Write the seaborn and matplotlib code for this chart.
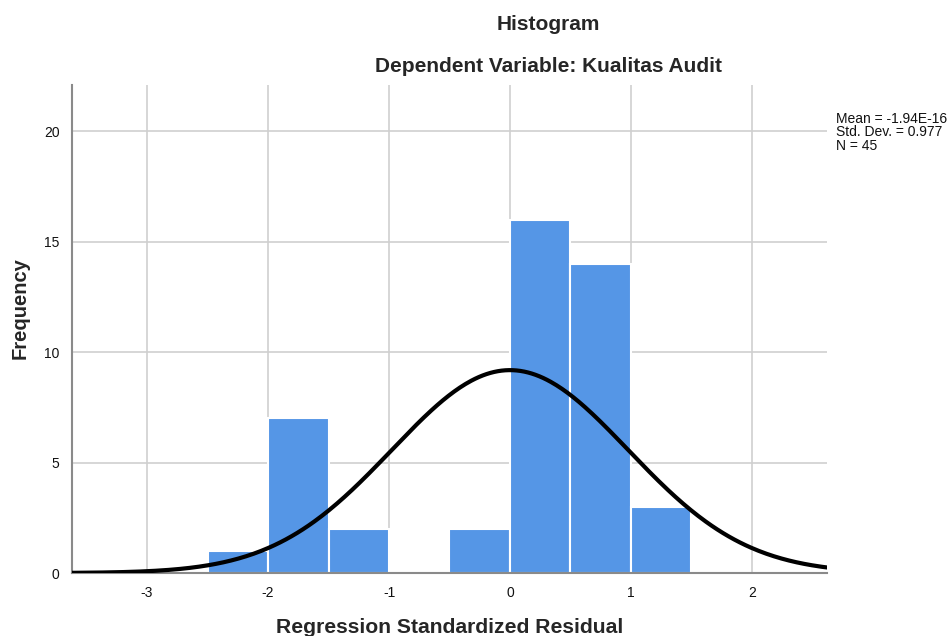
import numpy as np
import pandas as pd
import seaborn as sns
import matplotlib.pyplot as plt

bin_edges = [-2.5, -2.0, -1.5, -1.0, -0.5, 0.0, 0.5, 1.0, 1.5]
counts = [1, 7, 2, 0, 2, 16, 14, 3]
mean_val = -1.94e-16
std_val = 0.977
n_obs = 45

sns.set_style("white")
plt.rcParams['font.family'] = ['Liberation Sans', 'DejaVu Sans']
plt.rcParams['axes.unicode_minus'] = False

centers = [(a + b) / 2 for a, b in zip(bin_edges[:-1], bin_edges[1:])]
df = pd.DataFrame({'resid': centers, 'freq': counts})

fig = plt.figure(figsize=(9.49, 6.36), dpi=100)
ax = fig.add_axes([0.0759, 0.099, 0.7955, 0.7674])

sns.histplot(data=df, x='resid', weights='freq', bins=bin_edges, ax=ax,
             color='#5596e6', alpha=1, edgecolor='white', linewidth=1.5, zorder=2)

# normal curve scaled to counts
bw = bin_edges[1] - bin_edges[0]
xs = np.linspace(-3.62, 2.62, 400)
ys = n_obs * bw * np.exp(-0.5 * ((xs - mean_val) / std_val) ** 2) / (std_val * np.sqrt(2 * np.pi))
sns.lineplot(x=xs, y=ys, ax=ax, color='black', linewidth=3, zorder=3)

ax.set_xlim(-3.62, 2.62)
ax.set_ylim(0, 22.1)
ax.set_xticks([-3, -2, -1, 0, 1, 2])
ax.set_yticks([0, 5, 10, 15, 20])
ax.grid(True, color='#cfcfcf', linewidth=1.2, zorder=0)
ax.set_axisbelow(True)
for s in ['top', 'right']:
    ax.spines[s].set_visible(False)
for s in ['left', 'bottom']:
    ax.spines[s].set_color('#8a8a8a')
    ax.spines[s].set_linewidth(1.5)
ax.tick_params(axis='both', length=0, labelsize=10, colors='#111111', pad=9)
ax.set_xlabel("")
ax.set_ylabel("")

fig.text(0.474, 0.014, "Regression Standardized Residual", ha='center', va='center',
         fontsize=15.2, fontweight='bold')
fig.text(0.021, 0.516, "Frequency", ha='center', va='center', rotation=90,
         fontsize=14.5, fontweight='bold')

fig.text(0.5775, 0.961, "Histogram", ha='center', va='center', fontsize=15, fontweight='bold')
fig.text(0.5775, 0.896, "Dependent Variable: Kualitas Audit", ha='center', va='center',
         fontsize=15, fontweight='bold')
fig.text(0.881, 0.824, "Mean = -1.94E-16\nStd. Dev. = 0.977\nN = 45", ha='left', va='top',
         fontsize=10, linespacing=0.95, color='#111111')

fig.savefig("out.png", dpi=100)
